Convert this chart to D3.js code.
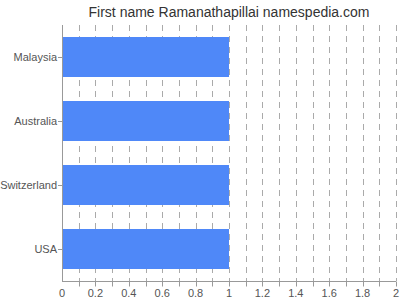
<!DOCTYPE html>
<html>
<head>
<meta charset="utf-8">
<script src="https://cdn.jsdelivr.net/npm/d3@7"></script>
<style>
  body { margin: 0; background: #fff; }
  svg { display: block; font-family: 'Liberation Sans', Arial, sans-serif; }
</style>
</head>
<body>
<div id="chart"></div>
<script>
const title = 'First name Ramanathapillai namespedia.com';
const countries = ['Malaysia', 'Australia', 'Switzerland', 'USA'];
const counts = [1, 1, 1, 1];
const xTicks = [0, 0.2, 0.4, 0.6, 0.8, 1, 1.2, 1.4, 1.6, 1.8, 2];
const xMax = 2;

const width = 400;
const height = 300;
const margin = { top: 25, right: 4, bottom: 19, left: 62 };

const data = countries.map((country, i) => ({ country, value: counts[i] }));

const svg = d3.select('#chart').append('svg')
  .attr('width', width)
  .attr('height', height);

const x = d3.scaleLinear()
  .domain([0, xMax])
  .range([margin.left, width - margin.right]);

const y = d3.scaleBand()
  .domain(countries)
  .range([margin.top, height - margin.bottom])
  .paddingInner(0.375)
  .paddingOuter(0.1875);

const minor = d3.range(1, 21).map((d) => d / 10);

/* grid */
svg.append('g')
  .selectAll('line')
  .data(minor)
  .join('line')
  .attr('x1', (d) => Math.round(x(d)) + 0.5)
  .attr('x2', (d) => Math.round(x(d)) + 0.5)
  .attr('y1', margin.top)
  .attr('y2', height - margin.bottom)
  .attr('stroke', '#aaa')
  .attr('stroke-dasharray', '6,5');

/* bars */
svg.append('g')
  .selectAll('rect')
  .data(data)
  .join('rect')
  .attr('x', x(0))
  .attr('y', (d) => y(d.country))
  .attr('width', (d) => x(d.value) - x(0))
  .attr('height', y.bandwidth())
  .attr('fill', '#4f88f8');

/* x axis */
const xAxis = svg.append('g')
  .attr('transform', `translate(0, ${height - margin.bottom + 0.5})`);

xAxis.append('line')
  .attr('x1', margin.left)
  .attr('x2', width - margin.right)
  .attr('stroke', '#999');

xAxis.selectAll('.minor')
  .data(minor)
  .join('line')
  .attr('x1', (d) => Math.round(x(d)) + 0.5)
  .attr('x2', (d) => Math.round(x(d)) + 0.5)
  .attr('y1', 0)
  .attr('y2', 5)
  .attr('stroke', '#999');

xAxis.selectAll('text')
  .data(xTicks)
  .join('text')
  .attr('x', (d) => x(d))
  .attr('y', 15)
  .attr('text-anchor', 'middle')
  .attr('font-size', 11)
  .attr('fill', '#555')
  .text((d) => d);

/* y axis */
const yAxis = svg.append('g');

yAxis.append('line')
  .attr('x1', margin.left + 0.5)
  .attr('x2', margin.left + 0.5)
  .attr('y1', margin.top)
  .attr('y2', height - margin.bottom)
  .attr('stroke', '#999');

const yTick = yAxis.selectAll('.tick')
  .data(countries)
  .join('g')
  .attr('transform', (d) => `translate(${margin.left}, ${Math.round(y(d) + y.bandwidth() / 2) + 0.5})`);

yTick.append('line')
  .attr('x1', -4)
  .attr('x2', 0)
  .attr('stroke', '#999');

yTick.append('text')
  .attr('x', -5)
  .attr('dy', '0.35em')
  .attr('text-anchor', 'end')
  .attr('font-size', 11)
  .attr('fill', '#555')
  .text((d) => d);

/* title */
svg.append('text')
  .attr('x', 229)
  .attr('y', 17)
  .attr('text-anchor', 'middle')
  .attr('font-size', 14)
  .attr('fill', '#333')
  .text(title);
</script>
</body>
</html>
